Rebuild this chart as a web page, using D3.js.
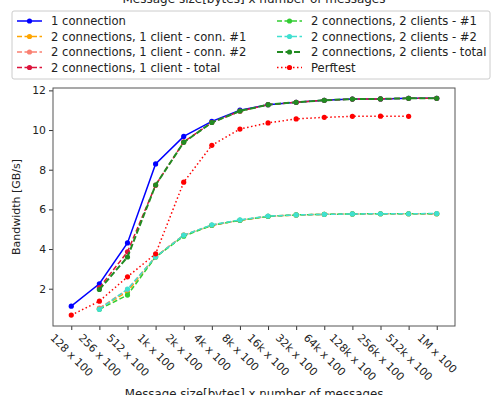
<!DOCTYPE html>
<html>
<head>
<meta charset="utf-8">
<script src="https://cdn.jsdelivr.net/npm/d3@7"></script>
<style>
body { margin: 0; background: #fff; }
text { font-family: "DejaVu Sans", sans-serif; fill: #222; }
</style>
</head>
<body>
<svg width="491" height="395"></svg>
<script>
const sizes = ["128 x 100", "256 x 100", "512 x 100", "1k x 100", "2k x 100", "4k x 100", "8k x 100",
    "16k x 100", "32k x 100", "64k x 100", "128k x 100", "256k x 100", "512k x 100", "1M x 100"]

const oneConn = [1.12, 2.25, 4.31, 8.29, 9.68, 10.44, 11.0, 11.28, 11.4, 11.5, 11.56, 11.57, 11.6, 11.6]
const c1Conn1 = [null, 1.0, 1.85, 3.6, 4.7, 5.2, 5.45, 5.65, 5.72, 5.75, 5.77, 5.78, 5.78, 5.78]
const c1Conn2 = [null, 1.02, 1.95, 3.62, 4.7, 5.2, 5.45, 5.65, 5.72, 5.75, 5.77, 5.78, 5.78, 5.78]
const c1Total = [null, 2.05, 3.86, 7.22, 9.4, 10.38, 10.95, 11.28, 11.4, 11.5, 11.56, 11.57, 11.6, 11.6]
const c2Client1 = [null, 0.96, 1.68, 3.6, 4.65, 5.2, 5.45, 5.65, 5.72, 5.75, 5.77, 5.78, 5.78, 5.78]
const c2Client2 = [null, 0.96, 1.98, 3.6, 4.7, 5.22, 5.47, 5.66, 5.72, 5.75, 5.77, 5.78, 5.78, 5.79]
const c2Total = [null, 1.96, 3.6, 7.23, 9.38, 10.38, 10.96, 11.28, 11.4, 11.5, 11.56, 11.57, 11.6, 11.6]
const perftest = [0.67, 1.37, 2.6, 3.76, 7.37, 9.23, 10.05, 10.36, 10.56, 10.64, 10.69, 10.7, 10.69, null]

const yTicks = [2, 4, 6, 8, 10, 12]

const series = [
    {name: "1 connection", values: oneConn, color: "#0000ff", dash: null, width: 1.5},
    {name: "2 connections, 1 client - conn. #1", values: c1Conn1, color: "#ffa500", dash: "5,2.5", width: 1.5},
    {name: "2 connections, 1 client - conn. #2", values: c1Conn2, color: "#fa8072", dash: "5,2.5", width: 1.5},
    {name: "2 connections, 1 client - total", values: c1Total, color: "#dc143c", dash: "5,2.5", width: 1.5},
    {name: "2 connections, 2 clients - #1", values: c2Client1, color: "#32cd32", dash: "5,2.5", width: 1.5},
    {name: "2 connections, 2 clients - #2", values: c2Client2, color: "#40e0d0", dash: "5,2.5", width: 1.5},
    {name: "2 connections, 2 clients - total", values: c2Total, color: "#228b22", dash: "6,2.5", width: 2},
    {name: "Perftest", values: perftest, color: "#ff0000", dash: "1.5,2.5", width: 1.5}
]

const svg = d3.select("svg")
const plotLeft = 53, plotRight = 455, plotTop = 88, plotBottom = 326

const x = d3.scalePoint()
    .domain(sizes)
    .range([plotLeft, plotRight])
    .padding(0.65)

const y = d3.scaleLinear()
    .domain([0.12, 12.12])
    .range([plotBottom, plotTop])

// title, cut off by the top edge
svg.append("text")
    .attr("x", 254).attr("y", 3)
    .attr("text-anchor", "middle")
    .style("font-size", "12px")
    .text("Message size[bytes] x number of messages")

// axes
const xAxis = svg.append("g")
    .attr("transform", `translate(0,${plotBottom})`)
    .call(d3.axisBottom(x).tickSize(4).tickSizeOuter(0))
xAxis.select(".domain").remove()
xAxis.selectAll("line").attr("stroke", "#333")
xAxis.selectAll("text")
    .style("font-size", "10.8px")
    .attr("text-anchor", "middle")
    .attr("dy", null)
    .each(function (d) {
        const len = this.getComputedTextLength()
        const half = (len * Math.SQRT1_2 + 10.8 * Math.SQRT1_2) / 2
        d3.select(this)
            .attr("y", 0)
            .attr("dy", "0.35em")
            .attr("transform", `translate(0,${6 + half}) rotate(45)`)
    })

const yAxis = svg.append("g")
    .attr("transform", `translate(${plotLeft},0)`)
    .call(d3.axisLeft(y).tickValues(yTicks).tickSize(4).tickSizeOuter(0))
yAxis.select(".domain").remove()
yAxis.selectAll("line").attr("stroke", "#333")
yAxis.selectAll("text").style("font-size", "10.8px")

svg.append("rect")
    .attr("x", plotLeft).attr("y", plotTop)
    .attr("width", plotRight - plotLeft).attr("height", plotBottom - plotTop)
    .attr("fill", "none").attr("stroke", "#555").attr("stroke-width", 1)

svg.append("text")
    .attr("transform", `translate(20,${(plotTop + plotBottom) / 2}) rotate(-90)`)
    .attr("text-anchor", "middle")
    .style("font-size", "11px")
    .text("Bandwidth [GB/s]")

svg.append("text")
    .attr("x", 254).attr("y", 398)
    .attr("text-anchor", "middle")
    .style("font-size", "11.8px")
    .text("Message size[bytes] x number of messages")

// lines
const line = d3.line()
    .defined(d => d.v !== null)
    .x(d => x(d.k))
    .y(d => y(d.v))

const plot = svg.append("g")
series.forEach(s => {
    const pts = s.values.map((v, i) => ({k: sizes[i], v: v}))
    plot.append("path")
        .datum(pts)
        .attr("d", line)
        .attr("fill", "none")
        .attr("stroke", s.color)
        .attr("stroke-width", s.width)
        .attr("stroke-dasharray", s.dash)
    plot.selectAll(null)
        .data(pts.filter(d => d.v !== null))
        .enter()
        .append("circle")
        .attr("cx", d => x(d.k))
        .attr("cy", d => y(d.v))
        .attr("r", 2.6)
        .attr("fill", s.color)
})

// legend
const legend = svg.append("g")
legend.append("rect")
    .attr("x", 12).attr("y", 11)
    .attr("width", 478).attr("height", 68)
    .attr("rx", 2)
    .attr("fill", "#fff").attr("stroke", "#ccc")

series.forEach((s, i) => {
    const col = Math.floor(i / 4), row = i % 4
    const lx = col === 0 ? 17 : 277
    const ly = 21 + row * 15.5
    const g = legend.append("g").attr("transform", `translate(${lx},${ly})`)
    g.append("line")
        .attr("x1", 0).attr("x2", 25)
        .attr("stroke", s.color)
        .attr("stroke-width", s.width)
        .attr("stroke-dasharray", s.dash)
    g.append("circle").attr("cx", 12.5).attr("r", 2.6).attr("fill", s.color)
    g.append("text")
        .attr("x", 34).attr("dy", "0.35em")
        .style("font-size", "11.6px")
        .text(s.name)
})
</script>
</body>
</html>
